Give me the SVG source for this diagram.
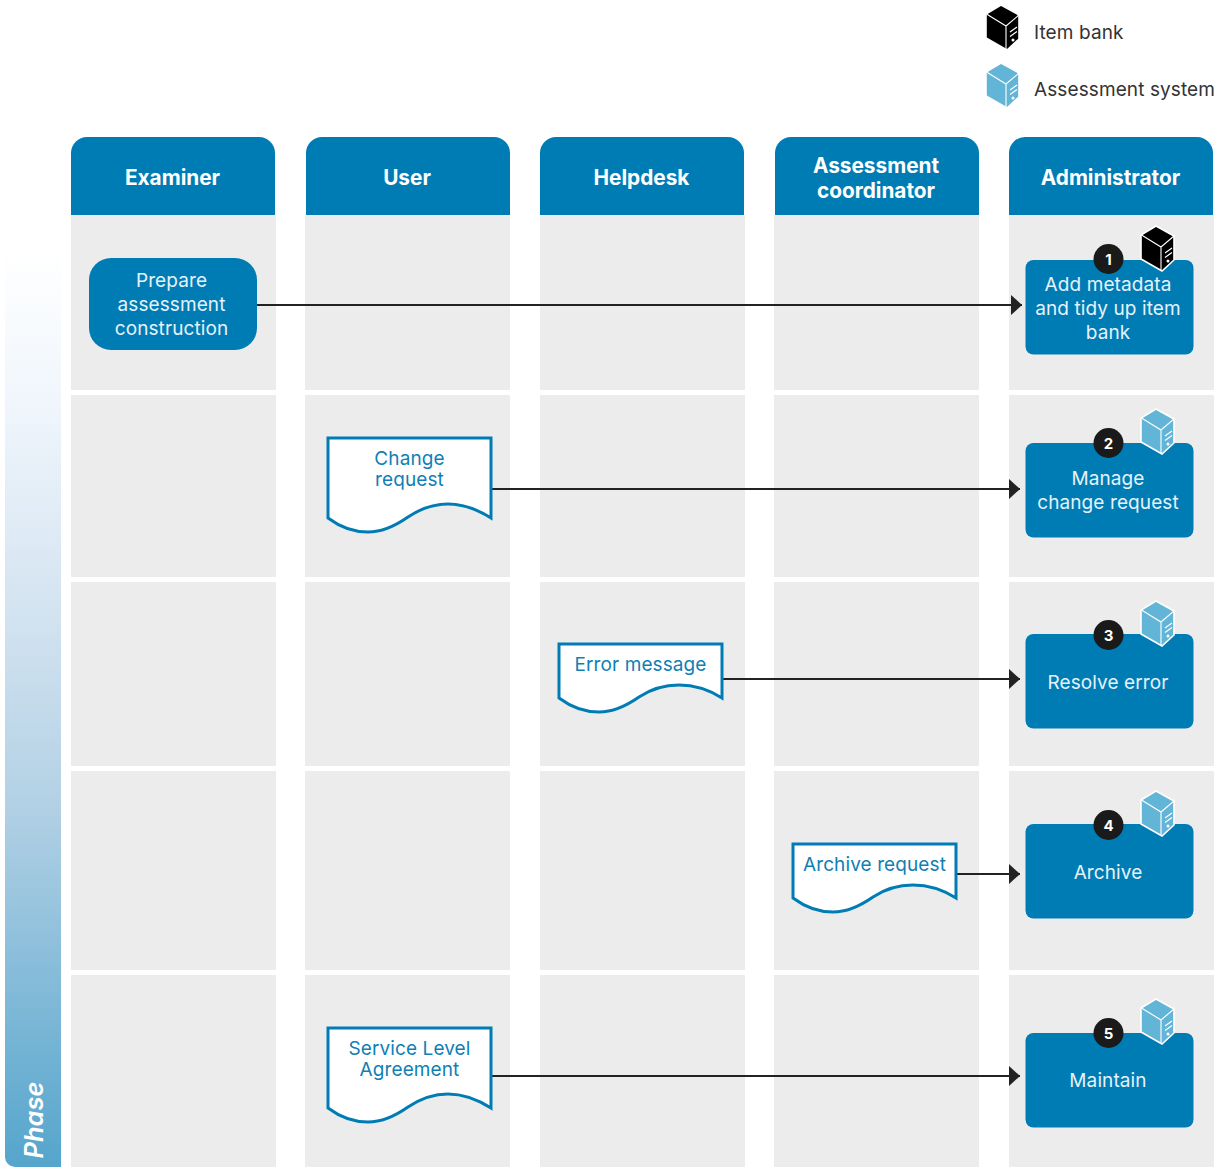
<svg xmlns="http://www.w3.org/2000/svg" width="1224" height="1167" viewBox="0 0 1224 1167">
<style>
text{font-family:"Inter","Noto Sans","Liberation Sans",sans-serif;text-anchor:middle}
.h{fill:#fff;font-size:20.8px;font-weight:700}
.w{fill:#e6f2f8;font-size:19px;letter-spacing:.1px}
.d{fill:#0f7fb5;font-size:19px;letter-spacing:.1px}
.l{fill:#333;font-size:19px;letter-spacing:.1px;text-anchor:start}
.n{fill:#fff;font-size:15px;font-weight:700}
.lane{fill:#ececec}
.blue{fill:#007cb5}
.doc{fill:#fff;stroke:#007cb5;stroke-width:3}
.c{stroke:#222;stroke-width:2;fill:none;marker-end:url(#a)}
</style>
<defs>
<linearGradient id="g" gradientUnits="userSpaceOnUse" x1="0" y1="250" x2="0" y2="1167"><stop offset="0" stop-color="#fff"/><stop offset=".164" stop-color="#f0f6fc"/><stop offset=".382" stop-color="#d5e4f1"/><stop offset=".6" stop-color="#b3d1e5"/><stop offset="1" stop-color="#55a5cc"/></linearGradient>
<marker id="a" markerUnits="userSpaceOnUse" markerWidth="12" markerHeight="20" refX="11" refY="10" orient="auto"><path d="M0 0L11 10L0 20Z" fill="#222"/></marker>
<g id="srv">
<path d="M15 0L33 10V34L21 45L0 33V9Z" stroke="#fff" stroke-width="1.6"/>
<path d="M0.500 9L20 21L33 10M20 21V45" stroke="#fff" stroke-width="1.1" fill="none"/>
<path d="M24 27L31 22M24 31.500L31 26.500" stroke="#fff" stroke-width="1.2" fill="none"/>
<circle cx="27" cy="35" r="1.5" fill="#fff"/>
</g>
</defs>
<g id="phase"><path d="M5 250H61V1167H15A10 10 0 0 1 5 1157Z" fill="url(#g)"/><text transform="translate(43 1120) rotate(-90)" style="fill:#fff;font-size:25.500px;font-style:italic;font-weight:600">Phase</text></g>
<g id="lanes">
<rect class="lane" x="71" y="215" width="205" height="175"/><rect class="lane" x="305" y="215" width="205" height="175"/><rect class="lane" x="540" y="215" width="205" height="175"/><rect class="lane" x="774" y="215" width="205" height="175"/><rect class="lane" x="1009" y="215" width="205" height="175"/>
<rect class="lane" x="71" y="395" width="205" height="182"/><rect class="lane" x="305" y="395" width="205" height="182"/><rect class="lane" x="540" y="395" width="205" height="182"/><rect class="lane" x="774" y="395" width="205" height="182"/><rect class="lane" x="1009" y="395" width="205" height="182"/>
<rect class="lane" x="71" y="582" width="205" height="184"/><rect class="lane" x="305" y="582" width="205" height="184"/><rect class="lane" x="540" y="582" width="205" height="184"/><rect class="lane" x="774" y="582" width="205" height="184"/><rect class="lane" x="1009" y="582" width="205" height="184"/>
<rect class="lane" x="71" y="771" width="205" height="199"/><rect class="lane" x="305" y="771" width="205" height="199"/><rect class="lane" x="540" y="771" width="205" height="199"/><rect class="lane" x="774" y="771" width="205" height="199"/><rect class="lane" x="1009" y="771" width="205" height="199"/>
<rect class="lane" x="71" y="975" width="205" height="192"/><rect class="lane" x="305" y="975" width="205" height="192"/><rect class="lane" x="540" y="975" width="205" height="192"/><rect class="lane" x="774" y="975" width="205" height="192"/><rect class="lane" x="1009" y="975" width="205" height="192"/>
</g>
<g id="hdr-examiner"><path class="blue" d="M71 215V153A16 16 0 0 1 87 137H259A16 16 0 0 1 275 153V215Z"/><text class="h" x="172.500" y="185">Examiner</text></g>
<g id="hdr-user"><path class="blue" d="M306 215V153A16 16 0 0 1 322 137H494A16 16 0 0 1 510 153V215Z"/><text class="h" x="407" y="185">User</text></g>
<g id="hdr-helpdesk"><path class="blue" d="M540 215V153A16 16 0 0 1 556 137H728A16 16 0 0 1 744 153V215Z"/><text class="h" x="641.500" y="185">Helpdesk</text></g>
<g id="hdr-coord"><path class="blue" d="M775 215V153A16 16 0 0 1 791 137H963A16 16 0 0 1 979 153V215Z"/><text class="h" x="876" y="173">Assessment</text><text class="h" x="876" y="198">coordinator</text></g>
<g id="hdr-admin"><path class="blue" d="M1009 215V153A16 16 0 0 1 1025 137H1197A16 16 0 0 1 1213 153V215Z"/><text class="h" x="1110.500" y="185">Administrator</text></g>
<g id="connectors">
<path class="c" d="M257 305H1022"/>
<path class="c" d="M492 489H1020"/>
<path class="c" d="M723 679H1020"/>
<path class="c" d="M957 874H1020"/>
<path class="c" d="M492 1076H1020"/>
</g>
<g id="legend"><use href="#srv" x="986" y="5" fill="#000"/><text class="l" x="1034" y="39">Item bank</text><use href="#srv" x="986" y="63" fill="#62b5d6"/><text class="l" x="1034" y="96">Assessment system</text></g>
<g id="prepare"><rect class="blue" x="89" y="258" width="168" height="92" rx="22"/><text class="w" x="171.500" y="287">Prepare</text><text class="w" x="171.500" y="311">assessment</text><text class="w" x="171.500" y="335">construction</text></g>
<g id="change-request"><path class="doc" d="M328 438H491V518C480 511 465 504 448 504C434 504 420 509 408 517C398 524 385 532 368 532C355 532 340 527 328 518Z"/><text class="d" x="409.500" y="465">Change</text><text class="d" x="409.500" y="486">request</text></g>
<g id="error-message"><path class="doc" d="M559 644H722V698C711 691 696 685 679 685C665 685 651 689 639 697C629 704 616 712 599 712C586 712 571 707 559 698Z"/><text class="d" x="640.500" y="671">Error message</text></g>
<g id="archive-request"><path class="doc" d="M793 844H956V898C945 891 930 885 913 885C899 885 885 889 873 897C863 904 850 912 833 912C820 912 805 907 793 898Z"/><text class="d" x="874.500" y="871">Archive request</text></g>
<g id="sla"><path class="doc" d="M328 1028H491V1108C480 1101 465 1094 448 1094C434 1094 420 1099 408 1107C398 1114 385 1122 368 1122C355 1122 340 1117 328 1108Z"/><text class="d" x="409.500" y="1055">Service Level</text><text class="d" x="409.500" y="1076">Agreement</text></g>
<g id="step1"><rect class="blue" x="1025.500" y="260" width="168" height="94.500" rx="8"/><text class="w" x="1108" y="291">Add metadata</text><text class="w" x="1108" y="315">and tidy up item</text><text class="w" x="1108" y="339">bank</text><circle cx="1108.500" cy="259" r="15" fill="#1a1a1a"/><text class="n" x="1108.500" y="264.500">1</text><use href="#srv" x="1141" y="226" fill="#000"/></g>
<g id="step2"><rect class="blue" x="1025.500" y="443" width="168" height="94.500" rx="8"/><text class="w" x="1108" y="485">Manage</text><text class="w" x="1108" y="509">change request</text><circle cx="1108.500" cy="443" r="15" fill="#1a1a1a"/><text class="n" x="1108.500" y="448.500">2</text><use href="#srv" x="1141" y="409" fill="#62b5d6"/></g>
<g id="step3"><rect class="blue" x="1025.500" y="634" width="168" height="94.500" rx="8"/><text class="w" x="1108" y="689">Resolve error</text><circle cx="1108.500" cy="635" r="15" fill="#1a1a1a"/><text class="n" x="1108.500" y="640.500">3</text><use href="#srv" x="1141" y="601" fill="#62b5d6"/></g>
<g id="step4"><rect class="blue" x="1025.500" y="824" width="168" height="94.500" rx="8"/><text class="w" x="1108" y="879">Archive</text><circle cx="1108.500" cy="825" r="15" fill="#1a1a1a"/><text class="n" x="1108.500" y="830.500">4</text><use href="#srv" x="1141" y="791" fill="#62b5d6"/></g>
<g id="step5"><rect class="blue" x="1025.500" y="1033" width="168" height="94.500" rx="8"/><text class="w" x="1108" y="1087">Maintain</text><circle cx="1108.500" cy="1033" r="15" fill="#1a1a1a"/><text class="n" x="1108.500" y="1038.500">5</text><use href="#srv" x="1141" y="999" fill="#62b5d6"/></g>
</svg>
